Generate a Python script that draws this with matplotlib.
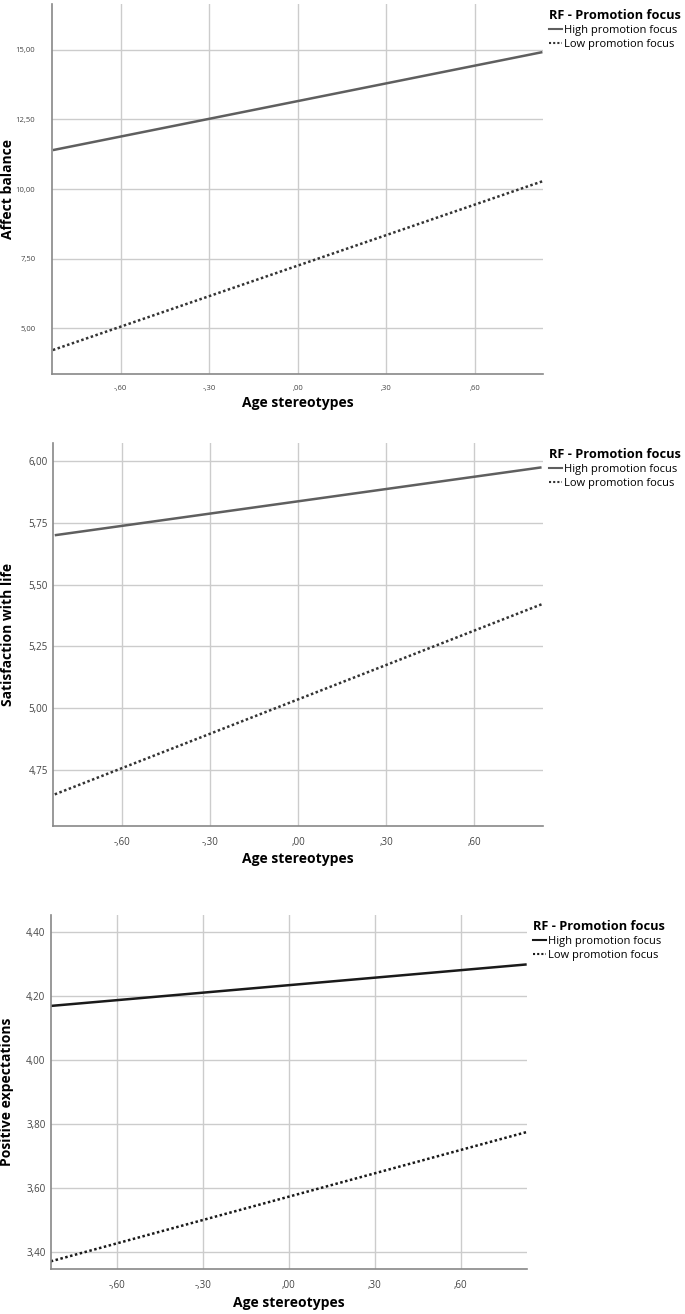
import matplotlib
matplotlib.use("Agg")
import matplotlib.pyplot as plt
from matplotlib.lines import Line2D

# x range of the predictor (centered age stereotypes)
x_ends = [-0.83, 0.83]
x_ticks = [-0.60, -0.30, 0.00, 0.30, 0.60]
x_ticklabels = ["-,60", "-,30", ",00", ",30", ",60"]

# panel 1: affect balance
ab_high = [11.40, 14.92]
ab_low = [4.22, 10.28]
ab_ticks = [5.0, 7.5, 10.0, 12.5, 15.0]
ab_ticklabels = ["5,00", "7,50", "10,00", "12,50", "15,00"]

# panel 2: satisfaction with life
swl_high = [5.70, 5.975]
swl_low = [4.65, 5.42]
swl_ticks = [4.75, 5.00, 5.25, 5.50, 5.75, 6.00]
swl_ticklabels = ["4,75", "5,00", "5,25", "5,50", "5,75", "6,00"]

# panel 3: positive expectations
pe_high = [4.17, 4.30]
pe_low = [3.37, 3.775]
pe_ticks = [3.40, 3.60, 3.80, 4.00, 4.20, 4.40]
pe_ticklabels = ["3,40", "3,60", "3,80", "4,00", "4,20", "4,40"]

series_labels = ["High promotion focus", "Low promotion focus"]

plt.rcParams['font.family'] = ["Open Sans", "DejaVu Sans"]

fig = plt.figure(figsize=(6.85, 13.14), dpi=100)

panels = [
    dict(rect=[0.0759, 0.7154, 0.7168, 0.2816], high=ab_high, low=ab_low,
         ylim=(3.36, 16.65), xlim=(-0.833, 0.832), yt=ab_ticks, ytl=ab_ticklabels,
         ylabel="Affect balance", hc="#5f5f5f", lc="#333333", tfs=5.5, ypad=12, ylx=-0.075),
    dict(rect=[0.0778, 0.3716, 0.7149, 0.2915], high=swl_high, low=swl_low,
         ylim=(4.523, 6.075), xlim=(-0.835, 0.835), yt=swl_ticks, ytl=swl_ticklabels,
         ylabel="Satisfaction with life", hc="#5f5f5f", lc="#333333", tfs=7, ypad=4, ylx=-0.078),
    dict(rect=[0.0745, 0.0340, 0.6948, 0.2697], high=pe_high, low=pe_low,
         ylim=(3.345, 4.455), xlim=(-0.829, 0.831), yt=pe_ticks, ytl=pe_ticklabels,
         ylabel="Positive expectations", hc="#1a1a1a", lc="#1a1a1a", tfs=7, ypad=4, ylx=-0.078),
]

for p in panels:
    ax = fig.add_axes(p["rect"])
    ax.plot(x_ends, p["high"], color=p["hc"], lw=1.8, solid_capstyle="butt")
    ax.plot(x_ends, p["low"], color=p["lc"], lw=1.8, linestyle=(0, (1, 1)))
    ax.set_xlim(p["xlim"])
    ax.set_ylim(p["ylim"])
    ax.set_xticks(x_ticks)
    ax.set_xticklabels(x_ticklabels)
    ax.set_yticks(p["yt"])
    ax.set_yticklabels(p["ytl"])
    ax.tick_params(length=0, labelsize=p["tfs"], colors="#444444")
    ax.tick_params(axis="x", pad=8)
    ax.tick_params(axis="y", pad=p["ypad"])
    ax.grid(color="#cccccc", lw=1)
    ax.set_axisbelow(True)
    for s in ["top", "right"]:
        ax.spines[s].set_visible(False)
    for s in ["left", "bottom"]:
        ax.spines[s].set_color("#888888")
        ax.spines[s].set_linewidth(1.2)
    ax.set_xlabel("Age stereotypes", fontsize=10, fontweight="bold", labelpad=3)
    ax.set_ylabel(p["ylabel"], fontsize=10, fontweight="bold")
    ax.yaxis.set_label_coords(p["ylx"], 0.5)

    handles = [Line2D([], [], color=p["hc"], lw=1.5),
               Line2D([], [], color=p["lc"], lw=1.5, linestyle=(0, (1, 1)))]
    leg = ax.legend(handles, series_labels, title="RF - Promotion focus",
                    loc="upper left", bbox_to_anchor=(1.0, 1.0), frameon=False,
                    fontsize=8, title_fontproperties={"weight": "bold", "size": 9.2},
                    handlelength=1.2, handletextpad=0.2, labelspacing=0.25,
                    alignment="left", borderaxespad=0.3, borderpad=0.2)

fig.savefig("out.png", dpi=100)
